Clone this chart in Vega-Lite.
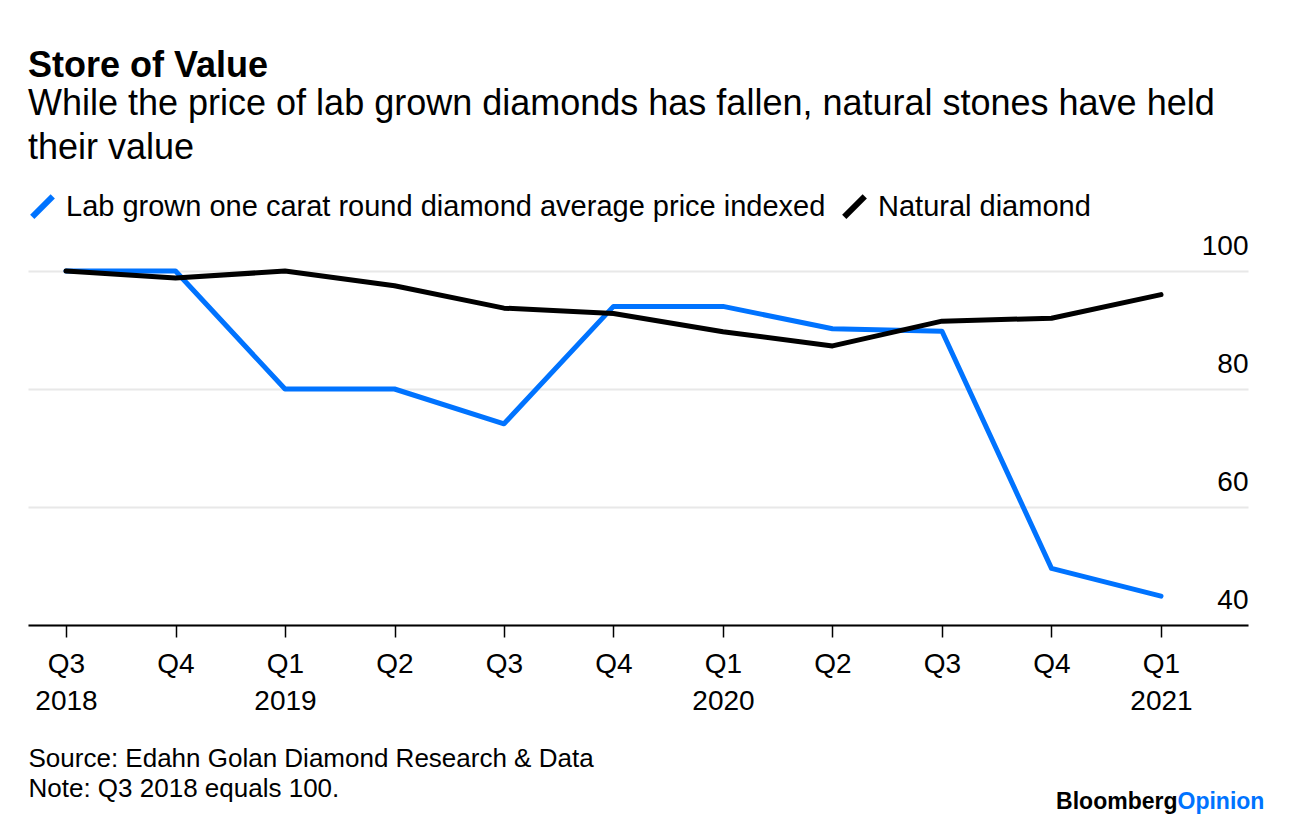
{
  "$schema": "https://vega.github.io/schema/vega-lite/v6.json",
  "width": 1220,
  "height": 354,
  "autosize": {"type": "none"},
  "padding": {"left": 28, "top": 271, "right": 48, "bottom": 201},
  "background": "white",
  "title": {
    "text": "Store of Value",
    "subtitle": ["While the price of lab grown diamonds has fallen, natural stones have held", "their value"],
    "anchor": "start",
    "frame": "group",
    "font": "Liberation Sans",
    "fontSize": 36,
    "fontWeight": "bold",
    "color": "#000000",
    "subtitleFont": "Liberation Sans",
    "subtitleFontSize": 36,
    "subtitleColor": "#000000",
    "subtitleLineHeight": 44,
    "subtitlePadding": 2,
    "offset": 25
  },
  "config": {
    "view": {"stroke": null},
    "font": "Liberation Sans",
    "axis": {"labelFont": "Liberation Sans", "titleFont": "Liberation Sans"},
    "legend": {"labelFont": "Liberation Sans"}
  },
  "data": {
    "values": [
      {"quarter": "Q3 2018", "series": "Lab grown one carat round diamond average price indexed", "value": 100},
      {"quarter": "Q4 2018", "series": "Lab grown one carat round diamond average price indexed", "value": 100},
      {"quarter": "Q1 2019", "series": "Lab grown one carat round diamond average price indexed", "value": 80},
      {"quarter": "Q2 2019", "series": "Lab grown one carat round diamond average price indexed", "value": 80},
      {"quarter": "Q3 2019", "series": "Lab grown one carat round diamond average price indexed", "value": 74.1},
      {"quarter": "Q4 2019", "series": "Lab grown one carat round diamond average price indexed", "value": 94},
      {"quarter": "Q1 2020", "series": "Lab grown one carat round diamond average price indexed", "value": 94},
      {"quarter": "Q2 2020", "series": "Lab grown one carat round diamond average price indexed", "value": 90.2},
      {"quarter": "Q3 2020", "series": "Lab grown one carat round diamond average price indexed", "value": 89.8},
      {"quarter": "Q4 2020", "series": "Lab grown one carat round diamond average price indexed", "value": 49.6},
      {"quarter": "Q1 2021", "series": "Lab grown one carat round diamond average price indexed", "value": 44.9},
      {"quarter": "Q3 2018", "series": "Natural diamond", "value": 100},
      {"quarter": "Q4 2018", "series": "Natural diamond", "value": 98.8},
      {"quarter": "Q1 2019", "series": "Natural diamond", "value": 100},
      {"quarter": "Q2 2019", "series": "Natural diamond", "value": 97.5},
      {"quarter": "Q3 2019", "series": "Natural diamond", "value": 93.7},
      {"quarter": "Q4 2019", "series": "Natural diamond", "value": 92.8},
      {"quarter": "Q1 2020", "series": "Natural diamond", "value": 89.7},
      {"quarter": "Q2 2020", "series": "Natural diamond", "value": 87.3},
      {"quarter": "Q3 2020", "series": "Natural diamond", "value": 91.5},
      {"quarter": "Q4 2020", "series": "Natural diamond", "value": 92},
      {"quarter": "Q1 2021", "series": "Natural diamond", "value": 96}
    ]
  },
  "encoding": {
    "x": {
      "field": "quarter",
      "type": "ordinal",
      "sort": null,
      "scale": {"type": "point", "padding": 0.5708, "align": 0.304},
      "axis": {
        "labelAngle": 0,
        "labelExpr": "datum.label == 'Q3 2018' || indexof(datum.label, 'Q1') == 0 ? split(datum.label, ' ') : split(datum.label, ' ')[0]",
        "labelFontSize": 28,
        "labelLineHeight": 37,
        "labelColor": "#000000",
        "labelPadding": 13,
        "tickSize": 12,
        "tickColor": "#000000",
        "tickWidth": 1.5,
        "domainColor": "#000000",
        "domainWidth": 2,
        "grid": false,
        "title": ["Source: Edahn Golan Diamond Research & Data", "Note: Q3 2018 equals 100."],
        "titleAnchor": "start",
        "titleAlign": "left",
        "titleX": 0,
        "titleY": 120,
        "titleBaseline": "top",
        "titleFontSize": 26,
        "titleFontWeight": "normal",
        "titleLineHeight": 30,
        "titleColor": "#000000"
      }
    },
    "color": {
      "field": "series",
      "type": "nominal",
      "scale": {
        "domain": ["Lab grown one carat round diamond average price indexed", "Natural diamond"],
        "range": ["#0073ff", "#000000"]
      },
      "legend": {
        "orient": "top",
        "direction": "horizontal",
        "title": null,
        "labelFontSize": 29,
        "labelColor": "#000000",
        "labelLimit": 0,
        "symbolType": "M-1,1L1,-1",
        "symbolStrokeWidth": 6,
        "symbolSize": 420,
        "labelOffset": 9,
        "columnPadding": 6,
        "offset": 39,
        "padding": 0
      }
    }
  },
  "layer": [
    {
      "transform": [{"filter": "datum.series == 'Lab grown one carat round diamond average price indexed'"}],
      "mark": {"type": "line", "strokeWidth": 5, "strokeCap": "round", "strokeJoin": "round"},
      "encoding": {
        "y": {
          "field": "value",
          "type": "quantitative",
          "scale": {"domain": [40, 100], "nice": false, "zero": false},
          "axis": {
            "orient": "right",
            "values": [40, 60, 80, 100],
            "grid": true,
            "gridColor": "#e8e8e8",
            "gridWidth": 2,
            "domain": false,
            "ticks": false,
            "labelAlign": "right",
            "labelPadding": 0,
            "labelBaseline": "alphabetic",
            "labelOffset": -17,
            "labelFontSize": 28,
            "labelColor": "#000000",
            "title": "Opinion",
            "titleAngle": 0,
            "titleAlign": "left",
            "titleBaseline": "middle",
            "titleX": -71,
            "titleY": 530,
            "titleColor": "#0073ff",
            "titleFontSize": 23,
            "titleFontWeight": "bold"
          }
        }
      }
    },
    {
      "transform": [{"filter": "datum.series == 'Natural diamond'"}],
      "mark": {"type": "line", "strokeWidth": 5, "strokeCap": "round", "strokeJoin": "round"},
      "encoding": {
        "y": {
          "field": "value",
          "type": "quantitative",
          "scale": {"domain": [40, 100], "nice": false, "zero": false},
          "axis": {
            "orient": "left",
            "grid": false,
            "domain": false,
            "ticks": false,
            "labels": false,
            "title": "Bloomberg",
            "titleAngle": 0,
            "titleAlign": "right",
            "titleBaseline": "middle",
            "titleX": 1149,
            "titleY": 530,
            "titleColor": "#000000",
            "titleFontSize": 23,
            "titleFontWeight": "bold"
          }
        }
      }
    }
  ],
  "resolve": {"scale": {"y": "independent"}}
}
